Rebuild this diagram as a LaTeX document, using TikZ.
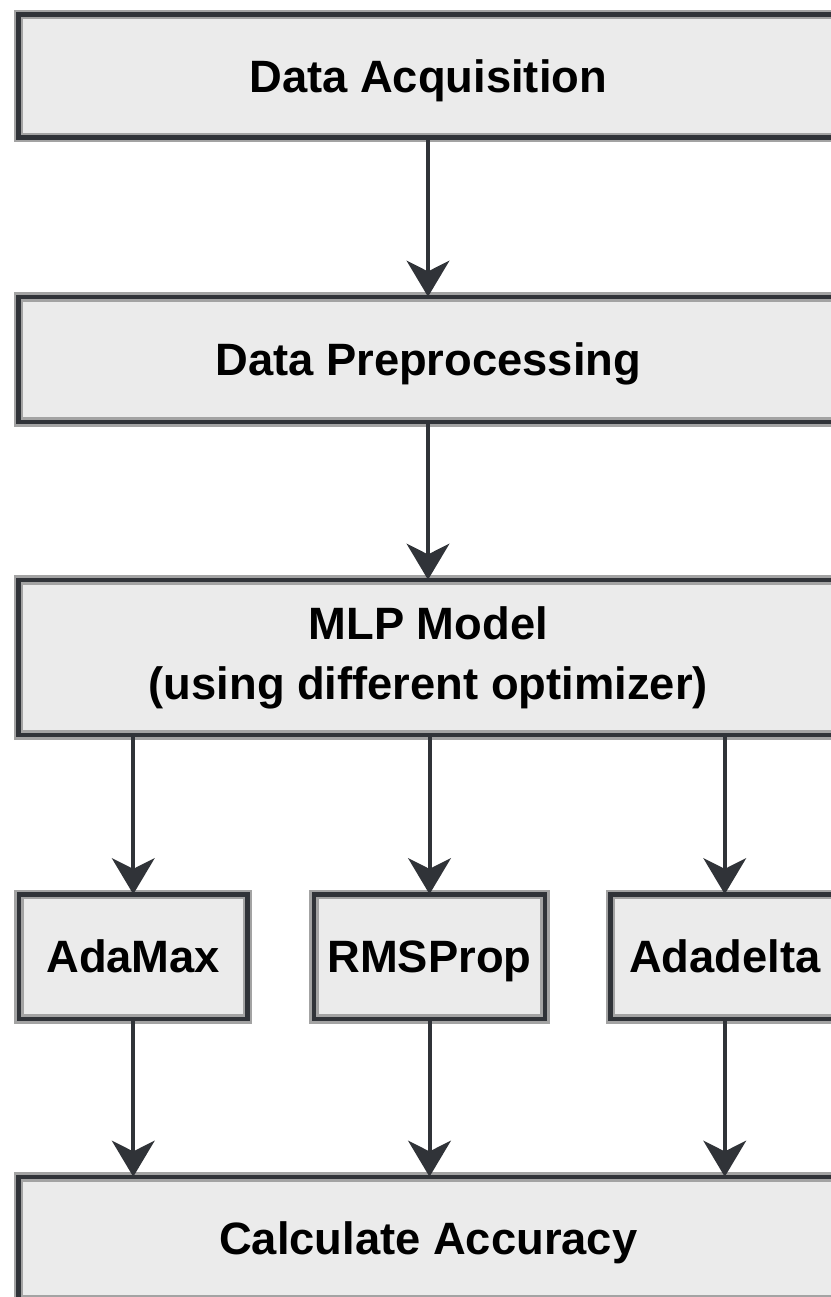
\documentclass[tikz,border=0pt]{standalone}
\usepackage{fontspec}
\setmainfont{Liberation Sans}
\usetikzlibrary{arrows.meta}
\definecolor{boxfill}{HTML}{EBEBEB}
\definecolor{edge}{HTML}{303338}
\definecolor{halo}{HTML}{A3A3A3}
\begin{document}
\begin{tikzpicture}[x=0.75pt,y=-0.75pt,
  basebox/.style={rectangle, fill=boxfill, inner sep=0pt, align=center,
    font=\fontsize{34}{45}\selectfont\bfseries, text=black,
    postaction={draw=halo, line width=7pt},
    postaction={draw=edge, line width=3.6pt}},
  box/.style={basebox, text height=24.3pt, text depth=0pt},
  wide/.style={box, minimum width=614.6pt},
  small/.style={box, minimum width=171.4pt, minimum height=93.4pt},
  arr/.style={draw=edge, line width=3pt,
    -{Stealth[length=27pt,width=32pt,inset=8pt]}}
]
\useasboundingbox (0,0) rectangle (831,1297);
\clip (0,0) rectangle (831,1297);
\fill[white] (0,0) rectangle (831,1297);

\node[wide, minimum height=92.25pt] (acq) at (428.25,76) {Data Acquisition};
\node[wide, minimum height=93.75pt] (pre) at (428.25,359.5) {Data Preprocessing};
\node[basebox, minimum width=614.6pt, minimum height=116.25pt] (mlp) at (428.25,657.5) {MLP Model\\(using different optimizer)};
\node[small] (am) at (133.25,956.75) {AdaMax};
\node[small, minimum width=173.25pt] (rms) at (429.5,956.75) {RMSProp};
\node[small] (ad) at (724.75,956.75) {Adadelta};
\node[wide, minimum height=92.25pt] (acc) at (428.25,1238.5) {Calculate Accuracy};

\draw[arr] (acq.south -| 428,0) -- (pre.north -| 428,0);
\draw[arr] (pre.south -| 428,0) -- (mlp.north -| 428,0);
\draw[arr] (mlp.south -| am.north) -- (am.north);
\draw[arr] (mlp.south -| rms.north) -- (rms.north);
\draw[arr] (mlp.south -| ad.north) -- (ad.north);
\draw[arr] (am.south) -- (acc.north -| am.south);
\draw[arr] (rms.south) -- (acc.north -| rms.south);
\draw[arr] (ad.south) -- (acc.north -| ad.south);
\end{tikzpicture}
\end{document}
